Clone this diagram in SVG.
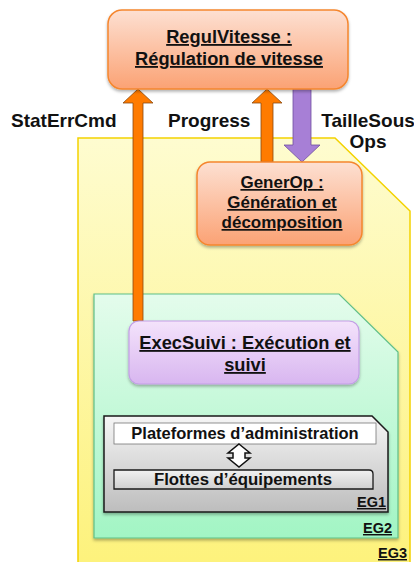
<svg xmlns="http://www.w3.org/2000/svg" width="414" height="562" viewBox="0 0 414 562">
<defs>
<linearGradient id="gOrange" x1="0" y1="0" x2="0" y2="1"><stop offset="0" stop-color="#fde0d2"/><stop offset="1" stop-color="#fba274"/></linearGradient>
<linearGradient id="gPurple" x1="0" y1="0" x2="0" y2="1"><stop offset="0" stop-color="#f4e3fb"/><stop offset="1" stop-color="#d8b6f0"/></linearGradient>
<linearGradient id="gYellow" x1="0" y1="0" x2="0" y2="1"><stop offset="0" stop-color="#fefcd0"/><stop offset="1" stop-color="#fdf27c"/></linearGradient>
<linearGradient id="gGreen" x1="0" y1="0" x2="0" y2="1"><stop offset="0" stop-color="#e4fcec"/><stop offset="1" stop-color="#a2f5c4"/></linearGradient>
<linearGradient id="gGray" x1="0" y1="0" x2="0" y2="1"><stop offset="0" stop-color="#f6f6f6"/><stop offset="1" stop-color="#bdbdbd"/></linearGradient>
<linearGradient id="gGray2" x1="0" y1="0" x2="0" y2="1"><stop offset="0" stop-color="#f2f2f2"/><stop offset="1" stop-color="#cfcfcf"/></linearGradient>
<filter id="sh" x="-10%" y="-10%" width="125%" height="130%"><feDropShadow dx="0" dy="2" stdDeviation="1.5" flood-color="#000" flood-opacity="0.3"/></filter>
</defs>
<style>
text{font-family:"Liberation Sans",Arial,sans-serif;font-weight:bold;fill:#111;}
.u{text-decoration:underline;}
.mid{text-anchor:middle;}
.end{text-anchor:end;}
.node{font-size:18.3px;}
.gen{font-size:17px;}
.lbl{font-size:19px;}
.eg{font-size:14.5px;}
.arrO{fill:#ff7b00;stroke:#8a4a10;stroke-width:0.8;}
.arrP{fill:#a77fd6;stroke:#6e4ea0;stroke-width:0.8;}
</style>

<g id="eg3">
<path d="M78,138 H335 L410,211 V563 H78 Z" fill="url(#gYellow)" stroke="#f3d200" stroke-width="1.5"/>
<text class="eg u end" x="407" y="558">EG3</text>
</g>

<g id="eg2">
<path d="M94,294 H339 L398,352 V538 H94 Z" fill="url(#gGreen)" stroke="#5fbf88" stroke-width="1.2" filter="url(#sh)"/>
<text class="eg u end" x="392" y="533">EG2</text>
</g>

<g id="eg1">
<path d="M104,416 H372 L388,432 V512 H104 Z" fill="url(#gGray)" stroke="#1a1a1a" stroke-width="1.5" filter="url(#sh)"/>
<text class="eg u end" x="386" y="507">EG1</text>
<g id="plateformes">
<rect x="114" y="423" width="262" height="21" fill="#ffffff" stroke="#777" stroke-width="0.8"/>
<text class="mid" x="245" y="439" font-size="16.5">Plateformes d’administration</text>
</g>
<g id="flottes">
<path d="M114,470 H369 Q373,470 373,474 V489 H114 Z" fill="url(#gGray2)" stroke="#1a1a1a" stroke-width="1.3"/>
<text class="mid" x="243" y="485" font-size="16.8">Flottes d’équipements</text>
</g>
</g>

<g id="connectors">
<polygon class="arrO" points="133,321 133,103 123,103 138,89 153,103 143,103 143,321"/>
<polygon class="arrO" points="261,162 261,103 252,103 267,89 282,103 273,103 273,162"/>
<polygon class="arrP" points="293,89 311,89 311,145 320,145 302,162 284,145 293,145"/>
<polygon points="239,444 250,453 245,453 245,458 250,458 239,467 228,458 233,458 233,453 228,453" fill="#ffffff" stroke="#111" stroke-width="1.5" stroke-linejoin="miter"/>
<text class="lbl" x="11" y="127">StatErrCmd</text>
<text class="lbl" x="168" y="127">Progress</text>
<text class="lbl mid" x="368" y="127">TailleSous</text>
<text class="lbl mid" x="368" y="148">Ops</text>
</g>

<g id="regulvitesse">
<rect x="108" y="10" width="240" height="79" rx="14" fill="url(#gOrange)" stroke="#f5862e" stroke-width="1.5" filter="url(#sh)"/>
<text class="node u mid" x="229" y="43">RegulVitesse :</text>
<text class="node u mid" x="229" y="65">Régulation de vitesse</text>
</g>

<g id="generop">
<rect x="197" y="162" width="165" height="83" rx="13" fill="url(#gOrange)" stroke="#f5862e" stroke-width="1.5" filter="url(#sh)"/>
<text class="gen u mid" x="282" y="188">GenerOp :</text>
<text class="gen u mid" x="282" y="208">Génération et</text>
<text class="gen u mid" x="282" y="228">décomposition</text>
</g>

<g id="execsuivi">
<rect x="129" y="321" width="230" height="63" rx="10" fill="url(#gPurple)" stroke="#c39ee6" stroke-width="1.2" filter="url(#sh)"/>
<text class="node u mid" x="245" y="349">ExecSuivi : Exécution et</text>
<text class="node u mid" x="245" y="371">suivi</text>
</g>
</svg>
